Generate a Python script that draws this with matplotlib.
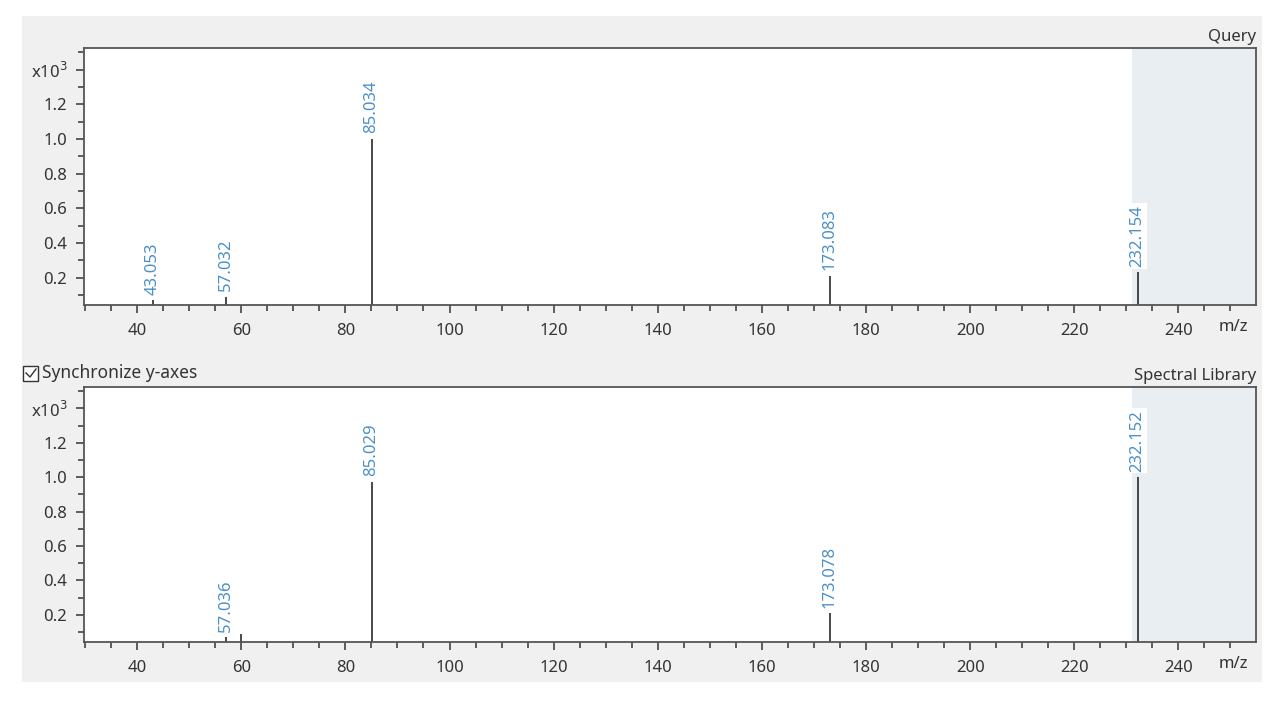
import matplotlib
matplotlib.use('Agg')
import matplotlib.pyplot as plt
from matplotlib.ticker import MultipleLocator, FixedLocator, FuncFormatter
from matplotlib.patches import Rectangle
from matplotlib.lines import Line2D

plt.rcParams['font.family'] = ['Noto Sans', 'DejaVu Sans']

# スペクトルデータ (強度 x10^3)
query_mz = [43.053, 57.032, 85.034, 173.083, 232.154]
query_int = [0.07, 0.09, 1.00, 0.21, 0.23]
query_labels = ['43.053', '57.032', '85.034', '173.083', '232.154']

library_mz = [57.036, 60.0, 85.029, 173.078, 232.152]
library_int = [0.07, 0.09, 0.975, 0.21, 1.00]
library_labels = ['57.036', '', '85.029', '173.078', '232.152']

precursor_start = 231.0
x_range = (29.8, 254.9)
y_range = (0.042, 1.525)
y_ticks = [0.2, 0.4, 0.6, 0.8, 1.0, 1.2, 1.4]

stem_color = '#3a3a3a'
label_color = '#4a90c8'
text_color = '#333333'
shade_color = '#e8eef2'


def y_fmt(v, pos):
    if abs(v - 1.4) < 1e-6:
        return 'x10$^3$'
    return f'{v:.1f}'


def draw_spectrum(ax, mz, inten, labels, title):
    ax.set_xlim(*x_range)
    ax.set_ylim(*y_range)
    ax.axvspan(precursor_start, x_range[1], color=shade_color, zorder=0, lw=0)
    ax.vlines(mz, 0, inten, color=stem_color, linewidth=1.3, zorder=2)
    for x, y, lab in zip(mz, inten, labels):
        if not lab:
            continue
        ax.annotate(lab, (x, y), xytext=(0, 4), textcoords='offset points',
                    rotation=90, ha='center', va='bottom', fontsize=12,
                    color=label_color, zorder=3,
                    bbox=dict(boxstyle='square,pad=0.1', facecolor='white', edgecolor='none'))

    # 軸目盛り
    ax.xaxis.set_major_locator(MultipleLocator(20))
    ax.xaxis.set_minor_locator(MultipleLocator(5))
    ax.yaxis.set_major_locator(FixedLocator(y_ticks))
    ax.yaxis.set_minor_locator(MultipleLocator(0.1))
    ax.yaxis.set_major_formatter(FuncFormatter(y_fmt))
    ax.tick_params(which='major', direction='out', length=6, width=1.2, color='#444444',
                   labelsize=12, labelcolor=text_color)
    ax.tick_params(which='minor', direction='out', length=4, width=1.2, color='#444444')
    ax.tick_params(axis='x', which='major', pad=7)
    ax.tick_params(axis='y', which='major', pad=6)
    for sp in ax.spines.values():
        sp.set_color('#555555')
        sp.set_linewidth(1.3)
    ax.set_facecolor('white')

    # m/z ラベル
    ax.annotate('m/z', (250.5, 0), xycoords=('data', 'axes fraction'),
                xytext=(0, -10), textcoords='offset points',
                ha='center', va='top', fontsize=12, color=text_color)
    # タイトル
    ax.text(1.0, 1.01, title, transform=ax.transAxes, ha='right', va='bottom',
            fontsize=12, color=text_color)


fig = plt.figure(figsize=(12.8, 7.04), dpi=100)
fig.patch.set_facecolor('white')
fig.patches.append(Rectangle((22 / 1280, 1 - 682 / 704), 1240 / 1280, 666 / 704,
                             transform=fig.transFigure, facecolor='#f0f0f0',
                             edgecolor='none', zorder=-10))

ax1 = fig.add_axes([84 / 1280, 1 - 305 / 704, 1172 / 1280, 257 / 704])
ax2 = fig.add_axes([84 / 1280, 1 - 642 / 704, 1172 / 1280, 255 / 704])

draw_spectrum(ax1, query_mz, query_int, query_labels, 'Query')
draw_spectrum(ax2, library_mz, library_int, library_labels, 'Spectral Library')

# チェックボックス
fig.patches.append(Rectangle((23 / 1280, 1 - 381 / 704), 15 / 1280, 15 / 704,
                             transform=fig.transFigure, facecolor='white',
                             edgecolor='#333333', linewidth=1.0))
fig.lines.append(Line2D([26 / 1280, 30 / 1280, 36 / 1280],
                        [1 - 373 / 704, 1 - 377 / 704, 1 - 369 / 704],
                        transform=fig.transFigure, color='#333333', linewidth=1.0))
fig.text(42 / 1280, 1 - 373 / 704, 'Synchronize y-axes', ha='left', va='center',
         fontsize=12.5, color=text_color)

plt.savefig('out.png', dpi=100)
plt.close(fig)
